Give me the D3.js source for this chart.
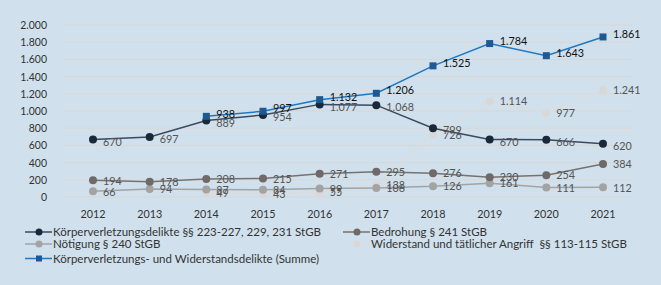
<!DOCTYPE html>
<html>
<head>
<meta charset="utf-8">
<script src="https://cdn.jsdelivr.net/npm/d3@7"></script>
<style>
  body { margin: 0; background: #d0e1ed; }
  svg { display: block; font-family: "Lato", "Open Sans", sans-serif; }
  svg text { white-space: pre; }
</style>
</head>
<body>
<svg id="chart" width="661" height="285"></svg>
<script>
// data
const years = [2012, 2013, 2014, 2015, 2016, 2017, 2018, 2019, 2020, 2021];
const koerper = [670, 697, 889, 954, 1077, 1068, 799, 670, 666, 620];
const bedrohung = [194, 178, 208, 215, 271, 295, 276, 230, 254, 384];
const noetigung = [66, 94, 87, 84, 99, 106, 126, 161, 111, 112];
const widerstand = [null, null, 49, 43, 55, 138, 726, 1114, 977, 1241];
const summe = [null, null, 938, 997, 1132, 1206, 1525, 1784, 1643, 1861];
const yTicks = [0, 200, 400, 600, 800, 1000, 1200, 1400, 1600, 1800, 2000];

const series = [
  { name: 'Körperverletzungsdelikte §§ 223-227, 229, 231 StGB', values: koerper, line: '#3a4a5e', marker: '#1b2838', shape: 'circle', labelColor: '#545454', dy: 2 },
  { name: 'Bedrohung § 241 StGB', values: bedrohung, line: '#77716f', marker: '#6f6968', shape: 'circle', labelColor: '#545454', dy: 0 },
  { name: 'Nötigung § 240 StGB', values: noetigung, line: '#a3a3a3', marker: '#a3a3a3', shape: 'circle', labelColor: '#545454', dy: 0 },
  { name: 'Widerstand und tätlicher Angriff  §§ 113-115 StGB', values: widerstand, line: '#dcdcdc', marker: '#d8d8d8', shape: 'circle', labelColor: '#545454', dy: 0 },
  { name: 'Körperverletzungs- und Widerstandsdelikte (Summe)', values: summe, line: '#1f78c1', marker: '#1d5a94', shape: 'square', labelColor: '#111', dy: -3 }
];

const de = d3.formatLocale({ decimal: ',', thousands: '.', grouping: [3], currency: ['', ' €'] });
const fmt = de.format(',d');

const svg = d3.select('#chart');
const x = d3.scalePoint().domain(years).range([93, 603]);
const y = d3.scaleLinear().domain([0, 2000]).range([197, 25]);

// narrow text: the original digits are a bit narrower than Lato, squeeze a little
function narrowText(sel, fx, fy, txt, size, sx, anchor, color) {
  const g = sel.append('g')
    .attr('transform', d => `translate(${fx(d)},${fy(d)}) scale(${sx},1)`);
  g.append('text')
    .attr('dy', '0.35em')
    .attr('text-anchor', anchor)
    .attr('font-size', size)
    .attr('fill', color)
    .text(txt);
  return g;
}

// grid
svg.append('g').selectAll('line')
  .data(yTicks).enter().append('line')
  .attr('x1', 63).attr('x2', 632)
  .attr('y1', d => y(d)).attr('y2', d => y(d))
  .attr('stroke', '#dad6d3').attr('stroke-width', 1);

// y axis labels
narrowText(svg.append('g').selectAll('g').data(yTicks).enter(),
  () => 47, d => y(d), d => fmt(d), 11.5, 0.91, 'end', '#333');

// x axis labels
narrowText(svg.append('g').selectAll('g').data(years).enter(),
  d => x(d), () => 213.5, d => d, 11.5, 0.94, 'middle', '#333');

const line = d3.line()
  .defined(d => d.v !== null)
  .x(d => x(d.year)).y(d => y(d.v));

// draw series, light ones first
const drawOrder = [3, 2, 1, 0, 4];
drawOrder.forEach(i => {
  const s = series[i];
  const pts = years.map((yr, j) => ({ year: yr, v: s.values[j] })).filter(d => d.v !== null);
  const g = svg.append('g');
  g.append('path')
    .datum(pts)
    .attr('d', line)
    .attr('fill', 'none')
    .attr('stroke', s.line)
    .attr('stroke-width', 1.5);
  if (s.shape === 'circle') {
    g.selectAll('circle').data(pts).enter().append('circle')
      .attr('cx', d => x(d.year)).attr('cy', d => y(d.v))
      .attr('r', 4).attr('fill', s.marker);
  } else {
    g.selectAll('rect').data(pts).enter().append('rect')
      .attr('x', d => x(d.year) - 3.5).attr('y', d => y(d.v) - 3.5)
      .attr('width', 7).attr('height', 7).attr('fill', s.marker);
  }
});

// value labels on top
drawOrder.forEach(i => {
  const s = series[i];
  const pts = years.map((yr, j) => ({ year: yr, v: s.values[j] })).filter(d => d.v !== null);
  narrowText(svg.append('g').selectAll('g').data(pts).enter(),
    d => x(d.year) + 10, d => y(d.v) + s.dy, d => fmt(d.v), 12, 0.9, 'start', s.labelColor);
});

// legend
const legendPos = [[25, 232], [343, 232], [25, 244], [343, 244], [25, 258.5]];
series.forEach((s, i) => {
  const [lx, ly] = legendPos[i];
  const g = svg.append('g').attr('transform', `translate(${lx},${ly})`);
  g.append('line').attr('x1', 0).attr('x2', 27).attr('y1', 0).attr('y2', 0)
    .attr('stroke', s.line).attr('stroke-width', 1.5);
  if (s.shape === 'circle') {
    g.append('circle').attr('cx', 14).attr('cy', 0).attr('r', 3.5).attr('fill', s.marker);
  } else {
    g.append('rect').attr('x', 11).attr('y', -3).attr('width', 6).attr('height', 6).attr('fill', s.marker);
  }
  narrowText(g.datum(s), () => 28, () => 0, d => d.name, 11.5, 1, 'start', '#333');
});
</script>
</body>
</html>
